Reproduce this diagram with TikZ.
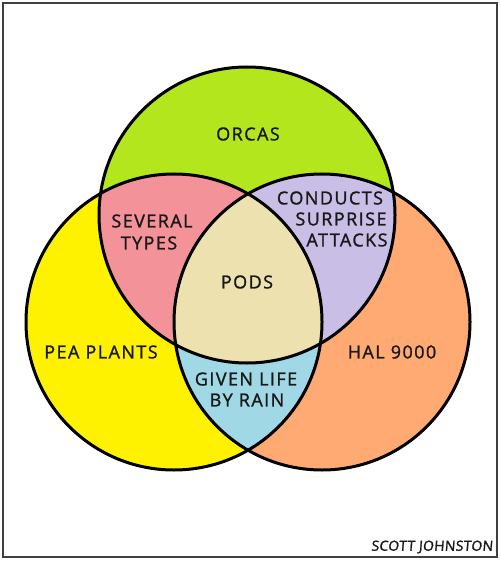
\documentclass[tikz,border=0pt]{standalone}
\usepackage{fontspec}
\setmainfont{Open Sans}[LetterSpace=8, FakeBold=1.3]
\newfontfamily\sigfont{Open Sans}[LetterSpace=2, FakeBold=1.5, FakeSlant=0.08]
\definecolor{cgreen}{RGB}{180,230,30}
\definecolor{cyellow}{RGB}{255,242,0}
\definecolor{corange}{RGB}{255,170,115}
\definecolor{cpink}{RGB}{244,146,154}
\definecolor{clav}{RGB}{200,190,230}
\definecolor{cblue}{RGB}{160,216,230}
\definecolor{cbeige}{RGB}{237,225,176}
\definecolor{ink}{RGB}{25,25,25}
\begin{document}
\begin{tikzpicture}[x=1pt,y=-1pt,
  lbl/.style={font=\fontsize{18}{21}\selectfont, text=ink, inner sep=0pt},
  outline/.style={draw=black, line width=3pt}]
\useasboundingbox (0,0) rectangle (500,561);
\fill[white] (0,0) rectangle (500,561);
\draw[line width=2pt, draw=black!75] (3,3) rectangle (497,557);
\def\R{148pt}
\coordinate (T) at (247,215);
\coordinate (L) at (174,322);
\coordinate (Rt) at (322,322);
\fill[cgreen] (T) circle[radius=\R];
\fill[cyellow] (L) circle[radius=\R];
\fill[corange] (Rt) circle[radius=\R];
\begin{scope}
  \clip (T) circle[radius=\R];
  \fill[cpink] (L) circle[radius=\R];
  \fill[clav] (Rt) circle[radius=\R];
\end{scope}
\begin{scope}
  \clip (L) circle[radius=\R];
  \fill[cblue] (Rt) circle[radius=\R];
  \clip (Rt) circle[radius=\R];
  \fill[cbeige] (T) circle[radius=\R];
\end{scope}
\draw[outline] (T) circle[radius=\R];
\draw[outline] (L) circle[radius=\R];
\draw[outline] (Rt) circle[radius=\R];
\node[lbl] (orcas) at (248,134) {ORCAS};
\node[lbl] (sev1) at (152,221) {SEVERAL};
\node[lbl] (sev2) at (149,243) {TYPES};
\node[lbl] (con1) at (330,198) {CONDUCTS};
\node[lbl] (con2) at (341,219) {SURPRISE};
\node[lbl] (con3) at (347,240) {ATTACKS};
\node[lbl] (pods) at (247,282) {PODS};
\node[lbl] (pea) at (101,352) {PEA PLANTS};
\node[lbl] (hal) at (392,352) {HAL 9000};
\node[lbl] (giv1) at (246,379) {GIVEN LIFE};
\node[lbl] (giv2) at (247,400) {BY RAIN};
\node[lbl, font=\sigfont\fontsize{14}{16}\selectfont] (sig) at (432,547) {SCOTT JOHNSTON};
\end{tikzpicture}
\end{document}
